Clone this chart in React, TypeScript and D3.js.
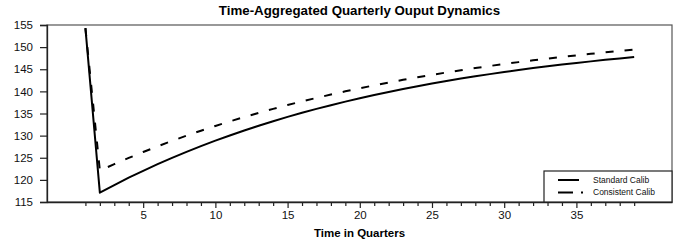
import React, { useEffect, useRef } from "react";
import * as d3 from "d3";

// quarters 1..39
const quarters = d3.range(1, 40);

const standardCalib = [
  154.3, 117.1, 118.8, 120.5, 122.05, 123.55, 124.97, 126.33, 127.63, 128.87,
  130.04, 131.17, 132.24, 133.26, 134.23, 135.16, 136.04, 136.88, 137.68, 138.45,
  139.18, 139.87, 140.54, 141.17, 141.77, 142.34, 142.89, 143.41, 143.9, 144.38,
  144.83, 145.26, 145.67, 146.06, 146.43, 146.78, 147.12, 147.44, 147.75,
];

const consistentCalib = [
  154.3, 122.1, 123.56, 124.96, 126.3, 127.58, 128.82, 129.99, 131.11, 132.19,
  133.22, 134.2, 135.15, 136.05, 136.91, 137.74, 138.53, 139.28, 140.01, 140.7,
  141.36, 142.0, 142.61, 143.19, 143.74, 144.27, 144.78, 145.27, 145.74, 146.18,
  146.61, 147.02, 147.41, 147.78, 148.14, 148.48, 148.81, 149.12, 149.43,
];

const yTicks = [115, 120, 125, 130, 135, 140, 145, 150, 155];
const xMajorTicks = [5, 10, 15, 20, 25, 30, 35];

const FONT = "'Liberation Sans', Arial, sans-serif";

const App = () => {
  const svgRef = useRef<SVGSVGElement>(null);

  useEffect(() => {
    const width = 683;
    const height = 245;
    const margin = { top: 25, right: 11, bottom: 43, left: 47 };

    d3.select(svgRef.current).selectAll("*").remove();

    const svg = d3
      .select(svgRef.current)
      .attr("width", width)
      .attr("height", height)
      .style("font-family", FONT);

    const xScale = d3
      .scaleLinear()
      .domain([-1.66, 41.62])
      .range([margin.left, width - margin.right]);

    const yScale = d3
      .scaleLinear()
      .domain([115, 155])
      .range([height - margin.bottom, margin.top]);

    // frame
    svg
      .append("rect")
      .attr("x", margin.left)
      .attr("y", margin.top)
      .attr("width", width - margin.left - margin.right)
      .attr("height", height - margin.top - margin.bottom)
      .attr("fill", "white")
      .attr("stroke", "#555")
      .attr("stroke-width", 1.2);

    // Y axis
    const yAxis = svg
      .append("g")
      .attr("transform", `translate(${margin.left},0)`)
      .call(d3.axisLeft(yScale).tickValues(yTicks).tickSize(7).tickPadding(7));
    yAxis.select(".domain").attr("stroke", "#222").attr("stroke-width", 1.3);
    yAxis.selectAll(".tick line").attr("stroke", "#222").attr("stroke-width", 1.2);
    yAxis
      .selectAll(".tick text")
      .attr("font-size", 11.5)
      .attr("font-family", FONT)
      .attr("fill", "#111");

    // X axis, minor ticks every quarter
    const xAxisMinor = svg
      .append("g")
      .attr("transform", `translate(0,${height - margin.bottom})`)
      .call(
        d3
          .axisBottom(xScale)
          .tickValues(quarters.filter((q) => q % 5 !== 0))
          .tickSize(4)
          .tickFormat(() => "")
      );
    xAxisMinor.select(".domain").remove();
    xAxisMinor.selectAll(".tick line").attr("stroke", "#222").attr("stroke-width", 1.2);

    const xAxisMajor = svg
      .append("g")
      .attr("transform", `translate(0,${height - margin.bottom})`)
      .call(
        d3
          .axisBottom(xScale)
          .tickValues(xMajorTicks)
          .tickSize(6)
          .tickPadding(3)
          .tickSizeOuter(0)
      );
    xAxisMajor.select(".domain").attr("stroke", "#222").attr("stroke-width", 1.3);
    xAxisMajor.selectAll(".tick line").attr("stroke", "#222").attr("stroke-width", 1.2);
    xAxisMajor
      .selectAll(".tick text")
      .attr("font-size", 11.5)
      .attr("font-family", FONT)
      .attr("fill", "#111");

    // lines
    const lineGen = d3
      .line<number>()
      .x((_, i) => xScale(quarters[i]))
      .y((d) => yScale(d));

    svg
      .append("path")
      .datum(consistentCalib)
      .attr("d", lineGen)
      .attr("fill", "none")
      .attr("stroke", "#000")
      .attr("stroke-width", 2)
      .attr("stroke-dasharray", "8,11");

    svg
      .append("path")
      .datum(standardCalib)
      .attr("d", lineGen)
      .attr("fill", "none")
      .attr("stroke", "#000")
      .attr("stroke-width", 2)
      .attr("stroke-linejoin", "round");

    // legend
    const legend = svg.append("g").attr("transform", "translate(544,171)");
    legend
      .append("rect")
      .attr("width", 128)
      .attr("height", 31)
      .attr("fill", "white")
      .attr("stroke", "#222")
      .attr("stroke-width", 1.2);

    const items = [
      { label: "Standard Calib", dash: null, x2: 35 },
      { label: "Consistent Calib", dash: "15,8,2,50", x2: 40 },
    ];
    items.forEach((item, i) => {
      const y = 9 + i * 12.5;
      legend
        .append("line")
        .attr("x1", 14)
        .attr("x2", item.x2)
        .attr("y1", y)
        .attr("y2", y)
        .attr("stroke", "#000")
        .attr("stroke-width", 2)
        .attr("stroke-dasharray", item.dash);
      legend
        .append("text")
        .attr("x", 49)
        .attr("y", y)
        .attr("dy", "0.35em")
        .attr("font-size", 8.5)
        .attr("fill", "#111")
        .text(item.label);
    });

    // title
    svg
      .append("text")
      .attr("x", (margin.left + width - margin.right) / 2)
      .attr("y", 15)
      .attr("text-anchor", "middle")
      .attr("font-size", 13.3)
      .attr("font-weight", "bold")
      .attr("fill", "#000")
      .text("Time-Aggregated Quarterly Ouput Dynamics");

    // x label
    svg
      .append("text")
      .attr("x", (margin.left + width - margin.right) / 2)
      .attr("y", 237)
      .attr("text-anchor", "middle")
      .attr("font-size", 11.5)
      .attr("font-weight", "bold")
      .attr("fill", "#000")
      .text("Time in Quarters");
  }, []);

  return (
    <svg
      ref={svgRef}
      style={{ position: "absolute", left: 0, top: 0, background: "white" }}
    />
  );
};

export default App;
